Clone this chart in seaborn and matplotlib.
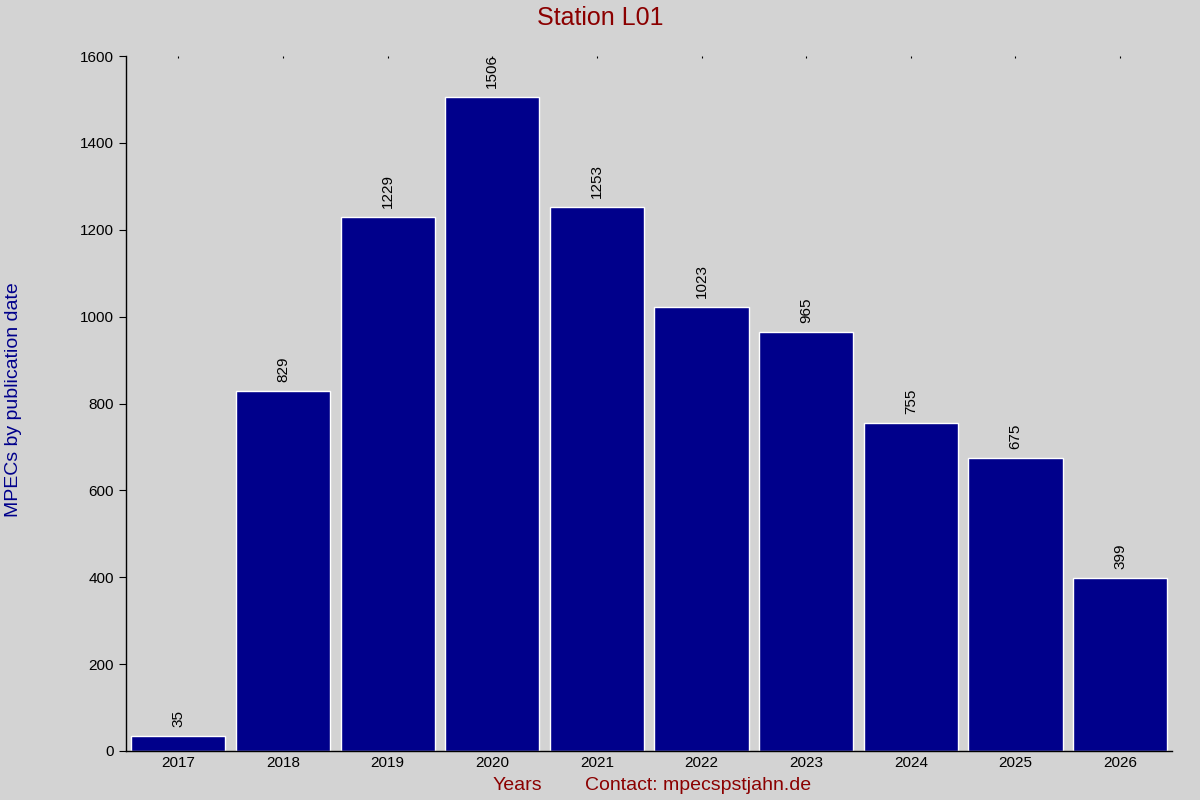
import matplotlib
matplotlib.use("Agg")
import matplotlib.pyplot as plt
import seaborn as sns
import pandas as pd

years = ["2017","2018","2019","2020","2021","2022","2023","2024","2025","2026"]
counts = [35, 829, 1229, 1506, 1253, 1023, 965, 755, 675, 399]

sns.set_style("white")
plt.rcParams['font.family'] = ['Liberation Sans', 'DejaVu Sans']
bg = "#d3d3d3"
fig = plt.figure(figsize=(12, 8), dpi=100, facecolor=bg)
ax = fig.add_axes([0.105, 0.06125, 0.872, 0.86875], facecolor=bg)
df = pd.DataFrame({"year": years, "count": counts})
sns.barplot(data=df, x="year", y="count", color="#00008b", saturation=1, width=0.9, ax=ax)
for i, v in enumerate(counts):
    ax.text(i, v + 20, str(v), rotation=90, ha="center", va="bottom", fontsize=11, color="black")
ax.set_xlim(-0.5, 9.5)
ax.set_ylim(0, 1600)
ax.set_yticks(range(0, 1601, 200))
ax.tick_params(axis="y", direction="out", length=5, left=True, labelsize=11, colors="black")
ax.tick_params(axis="x", bottom=False, top=True, direction="in", length=1.5, labelsize=11, colors="black")
for s in ["top", "right"]:
    ax.spines[s].set_visible(False)
for s in ["left", "bottom"]:
    ax.spines[s].set_color("black")
    ax.spines[s].set_linewidth(1)
ax.set_xlabel("")
ax.set_ylabel("")
fig.text(0.5, 0.977, "Station L01", ha="center", va="center", fontsize=18, color="#8b0000")
fig.text(0.011, 0.5, "MPECs by publication date", rotation=90, ha="center", va="center", fontsize=14, color="#00008b")
fig.text(0.431, 0.018, "Years", ha="center", va="center", fontsize=14, color="#8b0000")
fig.text(0.582, 0.018, "Contact: mpecspstjahn.de", ha="center", va="center", fontsize=14, color="#8b0000")
fig.savefig("out.png", dpi=100, facecolor=bg)
